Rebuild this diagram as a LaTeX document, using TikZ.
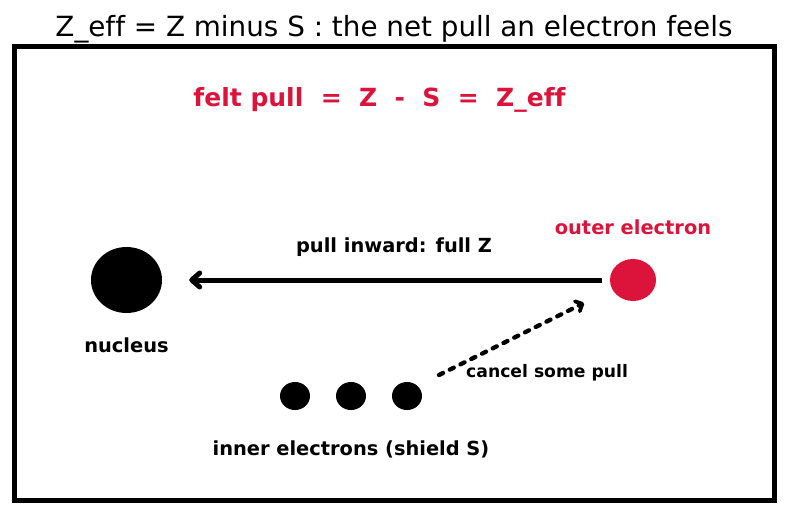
\documentclass[tikz,border=0pt]{standalone}
\usepackage{fontspec}
\setmainfont[Ligatures={NoCommon}]{DejaVu Sans}
\usepackage{tikz}
\usetikzlibrary{shapes.geometric}
\usetikzlibrary{arrows.meta}
\usetikzlibrary{positioning}
\definecolor{zred}{RGB}{220,20,60}

\tikzset{
  blob/.style={ellipse,fill=black,draw=none,inner sep=0pt},
  lbl/.style={anchor=base,inner sep=0.75pt,font=\bfseries\fontsize{19.4}{23}\selectfont},
  pullarrow/.style={line width=5pt,-{Straight Barb[length=8pt,width=14pt,line width=5pt,round]}},
  cancelarrow/.style={line width=4.3pt,line cap=round,dash pattern={on 4.5pt off 7.5pt},
    -{Straight Barb[length=5.5pt,width=11pt,line width=3.8pt,round]}}
}

\begin{document}
\begin{tikzpicture}[x=1pt,y=-1pt]
\useasboundingbox (0,0) rectangle (787,514); %whole picture, 787 by 514

% Title
\node (title) at (394,36) [anchor=base,inner sep=0pt,font=\fontsize{27.8}{32}\selectfont] {Z\_eff = Z minus S : the net pull an electron feels};

%Shape: Frame
\draw [line width=4.5pt] (14.5,46.5) rectangle (774.5,500.5);

% Text Node
\node (formula) at (379.5,106) [anchor=base,inner sep=0pt,text=zred,font=\bfseries\fontsize{25}{29}\selectfont] {felt pull\ \ =\ \ Z\ \ -\ \ S\ \ =\ \ Z\_eff};

%Shape: nucleus
\node (nucleus) [blob,minimum width=71pt,minimum height=66pt] at (126.5,280) {};
%Shape: outer electron
\node (outer) [blob,fill=zred,minimum width=46pt,minimum height=42pt] at (633,280) {};
%Shape: inner electrons
\node (inA) [blob,minimum width=30pt,minimum height=28pt] at (295,396) {};
\node (inB) [blob,minimum width=30pt,minimum height=28pt] at (351,396) {};
\node (inC) [blob,minimum width=30pt,minimum height=28pt] at (407,396) {};

%Straight Lines: pull inward
\draw [pullarrow,shorten <=8pt,shorten >=27pt] (outer.west) -- (nucleus.east);
%Straight Lines: cancel some pull
\coordinate (cancelstart) at (439,375);
\coordinate (cancelend) at (584,303);
\draw [cancelarrow] (cancelstart) -- (cancelend);

% Text Node
\node (pulllbl) at (394,252) [lbl] {pull inward: full Z};
% Text Node
\node (outerlbl) at (633,234.5) [lbl,text=zred] {outer electron};
% Text Node
\node (nucleuslbl) at (126.5,352) [lbl] {nucleus};
% Text Node
\node (innerlbl) at (351,455) [lbl] {inner electrons (shield S)};
% Text Node
\node (cancellbl) at (466,377.5) [anchor=base west,inner sep=0pt,font=\bfseries\fontsize{17.2}{20}\selectfont] {cancel some pull};

\end{tikzpicture}
\end{document}
